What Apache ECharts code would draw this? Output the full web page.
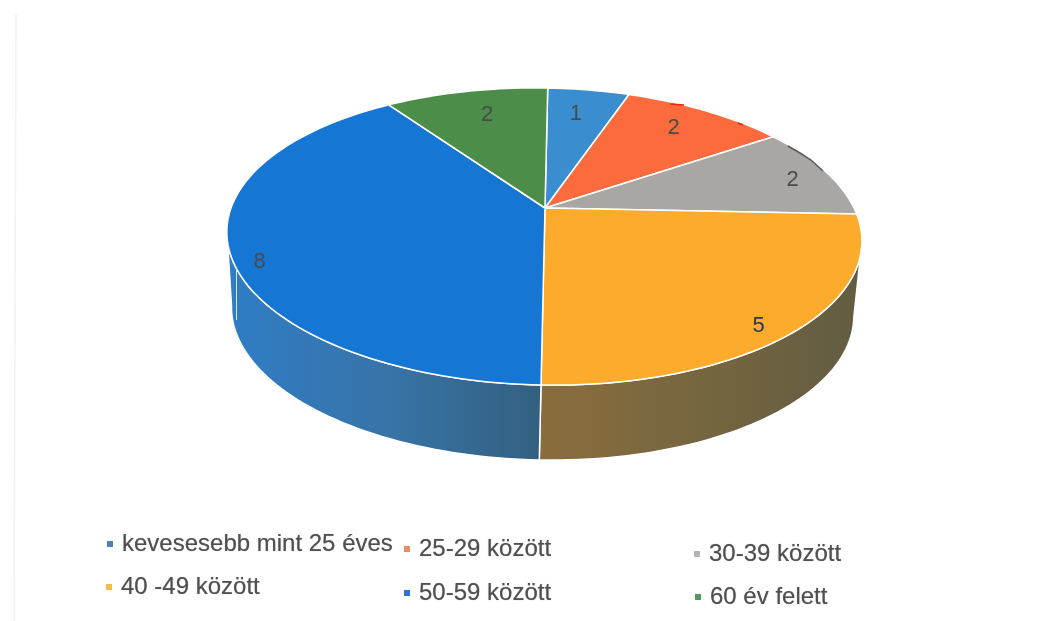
<!DOCTYPE html>
<html lang="en">

<head>
  <meta charset="UTF-8">
  <script src="https://cdn.jsdelivr.net/npm/echarts@6/dist/echarts.min.js"></script>
  <style>
    html, body { margin: 0; padding: 0; background: #fff; }
    #chart { width: 1056px; height: 621px; }
  </style>
</head>

<body>
  <div id="chart"></div>
  <script>
    // data
    const categories = ['kevesesebb mint 25 éves', '25-29 között', '30-39 között', '40 -49 között', '50-59 között', '60 év felett'];
    const counts = [1, 2, 2, 5, 8, 2];

    // colours
    const sliceColors = ['#3a8ecf', '#fb6b3e', '#a9a7a4', '#fdab2c', '#1676d3', '#4c8d4a'];
    const legendColors = ['#4a7fc0', '#ee8a68', '#b3b3b3', '#f8bb45', '#2f73d8', '#4f9a5c'];
    // wall gradient, left to right
    const wallColors = {
      3: ['#8b6d3c', '#75663f', '#625c42'],
      4: ['#2f7dc6', '#3774a8', '#33607f']
    };

    // where each legend entry sits
    const legendSpots = [[107, 532], [404, 537], [694, 542], [106, 575], [404, 581], [695, 585]];
    // label radius on the disc, then a nudge in px
    const labelSpots = [[0.77, -4, 0], [0.79, -2, -1], [0.88, -1, 4], [0.85, 4, 17], [0.92, 4, 16], [0.77, 5, 0]];

    // perspective of the disc, fitted to the picture
    const apex = [545, 208];
    const persp = -0.192, scaleX = 311.6, scaleY = 143;
    const tiltX = -0.0226, tiltY = 0.019;
    const depth = 75, lowerShrink = 0.98;

    const total = counts.reduce((a, b) => a + b, 0);

    // degrees clockwise from the top, r 0..1, lower=true for the bottom rim
    function project(deg, r, lower) {
      const t = deg * Math.PI / 180;
      const u = Math.sin(t) * r, v = -Math.cos(t) * r;
      const w = 1 + persp * v;
      let dx = scaleX * u / w;
      let dy = scaleY * v / w;
      if (lower) {
        dx *= lowerShrink;
        dy += depth;
      }
      return [apex[0] + dx + tiltX * dy, apex[1] + dy + tiltY * dx];
    }

    function rim(from, to, lower) {
      const pts = [];
      const n = Math.max(2, Math.ceil(Math.abs(to - from) / 1.5));
      for (let i = 0; i <= n; i++) {
        pts.push(project(from + (to - from) * i / n, 1, lower));
      }
      return pts;
    }

    function renderSlice(idx, params, api) {
      let before = 0;
      for (let i = 0; i < idx; i++) before += counts[i];
      const value = api.value(0);
      const start = before / total * 360;
      const end = (before + value) / total * 360;
      const mid = (start + end) / 2;
      const children = [];

      // wall, only the front half of the disc shows it
      const a = Math.max(start, 101), b = Math.min(end, 259);
      if (b > a && wallColors[idx]) {
        const stops = wallColors[idx].map((c, i, all) => ({ offset: i / (all.length - 1), color: c }));
        children.push({
          type: 'polygon',
          z2: 1,
          shape: { points: rim(a, b, false).concat(rim(b, a, true)) },
          style: {
            fill: new echarts.graphic.LinearGradient(0, 0, 1, 0, stops),
            stroke: '#fff',
            lineWidth: 1.5
          }
        });
      }

      // top of the slice
      children.push({
        type: 'polygon',
        z2: 2,
        shape: { points: [apex].concat(rim(start, end, false)) },
        style: { fill: sliceColors[idx], stroke: '#fff', lineWidth: 1.5, lineJoin: 'round' }
      });

      // value label
      const spot = labelSpots[idx];
      const pos = project(mid, spot[0], false);
      children.push({
        type: 'text',
        z2: 5,
        x: pos[0] + spot[1],
        y: pos[1] + spot[2],
        style: {
          text: String(value),
          fill: idx === 3 ? '#2b3550' : '#4a4a4a',
          font: '22px "Liberation Sans", Arial, sans-serif',
          align: 'center',
          verticalAlign: 'middle'
        }
      });

      return { type: 'group', children: children };
    }

    const chart = echarts.init(document.getElementById('chart'), null, { renderer: 'canvas' });

    chart.setOption({
      animation: false,
      backgroundColor: '#fff',
      legend: categories.map((name, i) => ({
        left: legendSpots[i][0],
        top: legendSpots[i][1],
        padding: 0,
        selectedMode: false,
        icon: 'rect',
        itemWidth: 6,
        itemHeight: 6,
        data: [{ name: name, itemStyle: { color: legendColors[i] } }],
        textStyle: {
          color: '#505050',
          fontSize: 24,
          fontFamily: '"Liberation Sans", Arial, sans-serif',
          padding: [0, 0, 0, 4],
          textShadowColor: 'rgba(80,80,80,0.6)',
          textShadowBlur: 1
        }
      })),
      series: categories.map((name, i) => ({
        type: 'custom',
        name: name,
        coordinateSystem: 'none',
        silent: true,
        itemStyle: { color: sliceColors[i] },
        data: [[counts[i]]],
        renderItem: (params, api) => renderSlice(i, params, api)
      })),
      // leftovers of the scan: stray leader marks and the page edge
      graphic: [
        { type: 'line', z: 10, shape: { x1: 16, y1: 14, x2: 14, y2: 621 }, style: { stroke: '#f2f2f2', lineWidth: 1.5 } },
        { type: 'line', z: 10, shape: { x1: 670, y1: 104, x2: 684, y2: 105 }, style: { stroke: '#f02010', lineWidth: 1.5 } },
        { type: 'line', z: 10, shape: { x1: 738, y1: 123, x2: 743, y2: 125 }, style: { stroke: '#f02010', lineWidth: 1.5 } },
        { type: 'polyline', z: 10, shape: { points: [[788, 146], [800, 153], [811, 160], [823, 171]] }, style: { stroke: '#5a5a5a', lineWidth: 1.5, fill: null } },
        { type: 'line', z: 10, shape: { x1: 236.5, y1: 268, x2: 236.5, y2: 320 }, style: { stroke: '#d8e4f0', lineWidth: 1 } }
      ]
    });
  </script>
</body>

</html>
